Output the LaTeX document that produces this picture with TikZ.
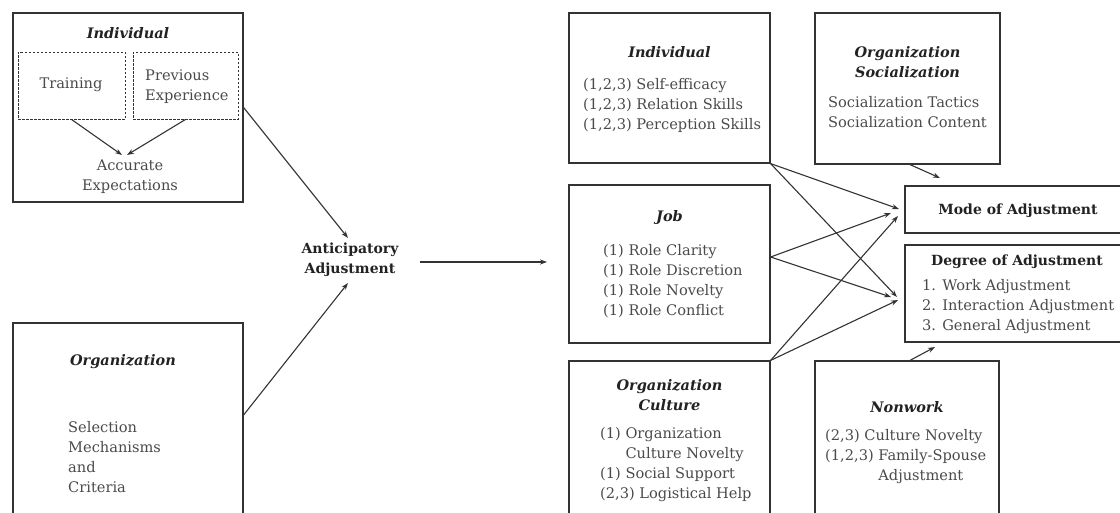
\documentclass[tikz,border=0pt]{standalone}
\usepackage{fontspec}
\setmainfont{DejaVu Serif}
\usetikzlibrary{arrows.meta,calc}
\definecolor{ink}{HTML}{333333}
\definecolor{txt}{HTML}{4A4A4A}
\definecolor{headc}{HTML}{222222}
\begin{document}
\begin{tikzpicture}[x=1pt,y=-1pt,
  box/.style={draw=ink,line width=1.2pt,inner sep=0pt},
  dbox/.style={draw=ink,line width=0.9pt,dash pattern=on 2.5pt off 1.5pt,inner sep=0pt},
  head/.style={font=\fontsize{14.5}{20}\selectfont\bfseries\itshape,text=headc,inner sep=0pt,align=center},
  uhead/.style={font=\fontsize{14}{20}\selectfont\bfseries,text=headc,inner sep=0pt,align=center},
  body/.style={font=\fontsize{14.6}{20}\selectfont,text=txt,inner sep=0pt,align=left,anchor=west},
  arr/.style={draw=ink,line width=1.1pt,-{Stealth[length=7pt,width=5pt]}}]
\useasboundingbox (0,0) rectangle (1120,512);
\clip (0,0) rectangle (1120,512);

% ---- left column: pre-departure factors ----
\node[box,minimum width=230pt,minimum height=189pt] (indL) at (128,107.5) {};
\node[head] (indLt) at (128,33) {Individual};
\node[dbox,minimum width=107pt,minimum height=67pt] (train) at (71.5,85.5) {};
\node[body,anchor=center] (trainT) at (71,85) {Training};
\node[dbox,minimum width=105pt,minimum height=67pt] (prev) at (185.5,85.5) {};
\node[body] (prevT) at (145,87) {Previous\\Experience};
\node[body,align=center,anchor=center] (acc) at (130,177) {Accurate\\Expectations};
\coordinate (accL) at (122,155);
\coordinate (accR) at (127,155);
\draw[arr] (train.south) -- (accL);
\draw[arr] (prev.south) -- (accR);

\node[box,minimum width=230pt,minimum height=220pt] (orgL) at (128,433) {};
\node[head] (orgLt) at (123,362) {Organization};
\node[body] (selT) at (68,457) {Selection\\Mechanisms\\and\\Criteria};

% ---- anticipatory adjustment ----
\node[uhead,inner xsep=21pt] (antic) at (350,260) {Anticipatory\\Adjustment};
\coordinate (anticIn1) at (348,238);
\coordinate (anticIn2) at (348,283);
\coordinate (midIn) at (547,262);
\draw[arr] (indL.east) -- (anticIn1);
\draw[arr] ([yshift=18pt]orgL.east) -- (anticIn2);
\draw[arr] ([yshift=-2pt]antic.east) -- (midIn);

% ---- middle column: in-country factors ----
\node[box,minimum width=201pt,minimum height=150pt] (indM) at (669.5,88) {};
\node[head] (indMt) at (669.5,52) {Individual};
\node[body] (indMl) at (583,105) {(1,2,3) Self-efficacy\\(1,2,3) Relation Skills\\(1,2,3) Perception Skills};

\node[box,minimum width=201pt,minimum height=158pt] (job) at (669.5,264) {};
\node[head] (jobt) at (669.5,217) {Job};
\node[body] (jobl) at (603,281) {(1) Role Clarity\\(1) Role Discretion\\(1) Role Novelty\\(1) Role Conflict};

\node[box,minimum width=201pt,minimum height=180pt] (cult) at (669.5,451) {};
\node[head] (cultt) at (669.5,395) {Organization\\Culture};
\node[body] (cultl) at (600,465) {(1) Organization\\\phantom{(1) }Culture Novelty\\(1) Social Support\\(2,3) Logistical Help};

% ---- right column ----
\node[box,minimum width=185pt,minimum height=151pt] (soc) at (907.5,88.5) {};
\node[head] (soct) at (907.5,62) {Organization\\Socialization};
\node[body] (socl) at (828,112) {Socialization Tactics\\Socialization Content};

\node[box,minimum width=235pt,minimum height=47pt] (mode) at (1022.5,209.5) {};
\node[uhead] (modet) at (1018,211) {Mode of Adjustment};

\node[box,minimum width=235pt,minimum height=97pt] (deg) at (1022.5,293.5) {};
\node[uhead] (degt) at (1017,262) {Degree of Adjustment};
\node[body] (degl) at (922,307) {1. Work Adjustment\\2. Interaction Adjustment\\3. General Adjustment};

\node[box,minimum width=184pt,minimum height=180pt] (nonw) at (907,451) {};
\node[head] (nonwt) at (907,407) {Nonwork};
\node[body] (nonwl) at (825,457) {(2,3) Culture Novelty\\(1,2,3) Family-Spouse\\\phantom{(1,2,3) }Adjustment};

% ---- connectors into mode and degree of adjustment ----
\coordinate (m1) at (899,209);
\coordinate (m2) at (891,213);
\coordinate (m3) at (898,216);
\coordinate (d1) at (897,297);
\coordinate (d2) at (891,297);
\coordinate (d3) at (898,300);
\coordinate (modeIn) at (940,178);
\coordinate (degIn) at (935,347);
\draw[arr] (indM.south east) -- (m1);
\draw[arr] (indM.south east) -- (d1);
\draw[arr] ([yshift=7pt]job.east) -- (m2);
\draw[arr] ([yshift=7pt]job.east) -- (d2);
\draw[arr] (cult.north east) -- (m3);
\draw[arr] (cult.north east) -- (d3);
\draw[arr] ([xshift=2.5pt]soc.south) -- (modeIn);
\draw[arr] ([xshift=3pt]nonw.north) -- (degIn);
\end{tikzpicture}
\end{document}
